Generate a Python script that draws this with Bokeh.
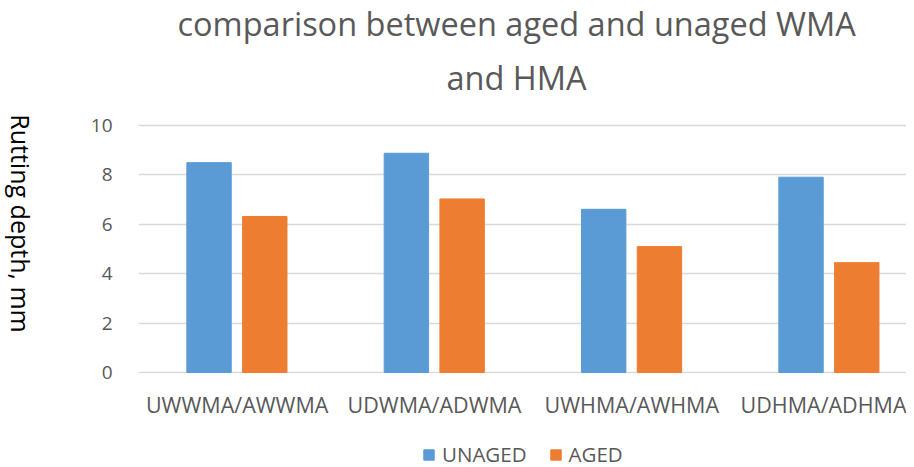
import math
from bokeh.plotting import figure
from bokeh.models import (Range1d, FixedTicker, Title, Legend, LegendItem, Label,
                          ColumnDataSource)
from bokeh.layouts import row, column
from bokeh.embed import file_html
from bokeh.resources import INLINE

categories = ["UWWMA/AWWMA", "UDWMA/ADWMA", "UWHMA/AWHMA", "UDHMA/ADHMA"]
unaged = [8.50, 8.88, 6.61, 7.91]
aged = [6.32, 7.03, 5.10, 4.45]
y_ticks = [0, 2, 4, 6, 8, 10]
series_names = ["UNAGED", "AGED"]

FONT = "Open Sans"
GREY = "#595959"
BLUE = "#5b9bd5"
ORANGE = "#ed7d31"

centers = [i + 0.5 for i in range(len(categories))]
src_u = ColumnDataSource(dict(x=[c - 0.1425 for c in centers], top=unaged))
src_a = ColumnDataSource(dict(x=[c + 0.14 for c in centers], top=aged))

# ---------------- main chart ----------------
p = figure(frame_width=768, frame_height=261,
           output_backend="svg", toolbar_location=None,
           x_range=Range1d(0, 3.892), y_range=Range1d(-0.04, 10.53),
           min_border_left=100, min_border_right=0, min_border_top=0,
           min_border_bottom=0)
p.outline_line_color = None
p.background_fill_color = "white"
p.border_fill_color = "white"

p.vbar(x="x", top="top", bottom=0, width=0.225, source=src_u,
       fill_color=BLUE, line_color=BLUE)
p.vbar(x="x", top="top", bottom=0, width=0.225, source=src_a,
       fill_color=ORANGE, line_color=ORANGE)

p.xaxis.ticker = FixedTicker(ticks=centers)
p.xaxis.major_label_overrides = {c: lab for c, lab in zip(centers, categories)}
p.yaxis.ticker = FixedTicker(ticks=y_ticks)
for ax in (p.xaxis, p.yaxis):
    ax.axis_line_color = None
    ax.major_tick_line_color = None
    ax.minor_tick_line_color = None
    ax.major_label_text_font = FONT
    ax.major_label_text_color = GREY
p.yaxis.major_label_text_font_size = "19px"
p.xaxis.major_label_text_font_size = "21.5px"
p.yaxis.major_label_standoff = 20
p.xaxis.major_label_standoff = 10
p.xgrid.grid_line_color = None
p.ygrid.grid_line_color = "#d9d9d9"
p.ygrid.grid_line_width = 1.5

t2 = Title(text="and HMA", align="left", offset=308, text_font=FONT,
           text_font_size="32.5px", text_font_style="normal", text_color=GREY,
           vertical_align="top", standoff=22)
t1 = Title(text="comparison between aged and unaged WMA", align="left",
           offset=39, text_font=FONT, text_font_size="32.5px",
           text_font_style="normal", text_color=GREY, standoff=-4)
p.add_layout(t2, "above")
p.add_layout(t1, "above")

# ---------------- y axis title (reads top to bottom) ----------------
py = figure(width=38, height=459, output_backend="svg", toolbar_location=None,
            x_range=Range1d(0, 38), y_range=Range1d(459, 0),
            x_axis_location=None, y_axis_location=None,
            min_border=0)
py.outline_line_color = None
py.xgrid.visible = False
py.ygrid.visible = False
py.add_layout(Label(x=20, y=223, text="Rutting depth, mm", angle=-math.pi / 2,
                    text_align="center", text_baseline="middle",
                    text_font=FONT, text_font_size="25px",
                    text_color="#000000"))

# ---------------- legend strip ----------------
pl = figure(width=868, height=52, output_backend="svg", toolbar_location=None,
            x_range=Range1d(0, 1), y_range=Range1d(20, 21),
            x_axis_location=None, y_axis_location=None, min_border=0)
pl.outline_line_color = None
pl.xgrid.visible = False
pl.ygrid.visible = False
# legend swatches reuse the series sources (bars lie outside this strip's range)
lu = pl.vbar(x="x", top="top", bottom=0, width=0.01, source=src_u,
             fill_color=BLUE, line_color=BLUE)
la = pl.vbar(x="x", top="top", bottom=0, width=0.01, source=src_a,
             fill_color=ORANGE, line_color=ORANGE)
legend = Legend(items=[LegendItem(label=series_names[0], renderers=[lu]),
                       LegendItem(label=series_names[1], renderers=[la])],
                orientation="horizontal", location=(284, 5),
                label_text_font=FONT, label_text_font_size="20.5px",
                label_text_color=GREY, border_line_color=None,
                background_fill_alpha=0, margin=0,
                glyph_width=13, glyph_height=13, spacing=22, padding=0,
                label_standoff=7)
pl.add_layout(legend)

layout = row(py, column(p, pl))
open("out.html", "w").write(file_html(layout, INLINE))
